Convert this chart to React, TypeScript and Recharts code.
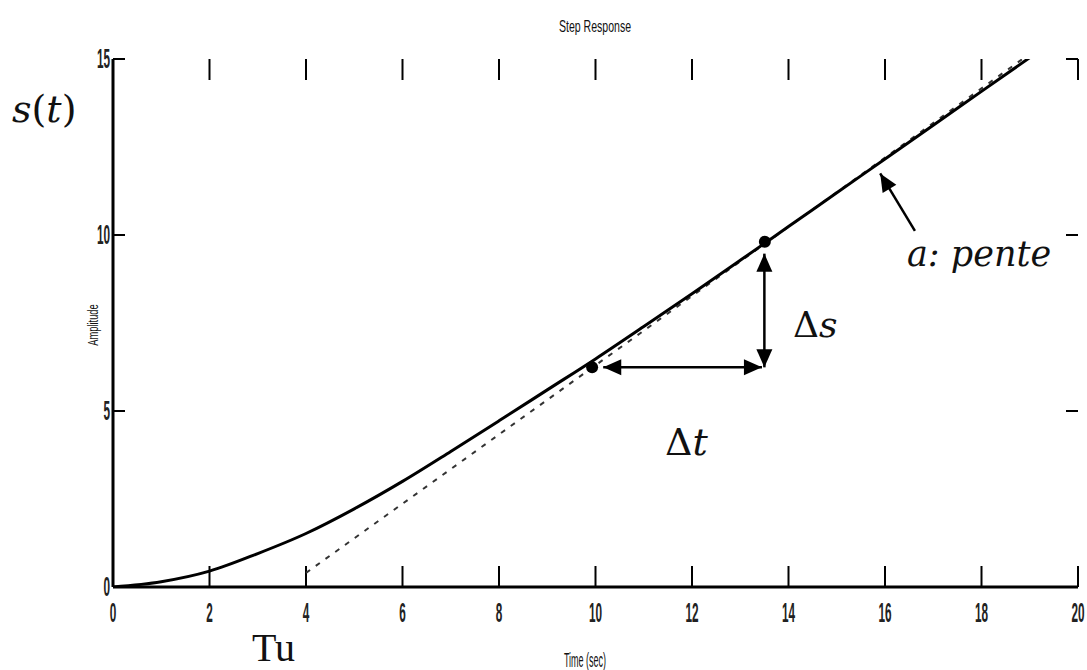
import React from "react";
import {
  ComposedChart,
  Line,
  XAxis,
  YAxis,
  ReferenceDot,
  ReferenceLine
} from "recharts";

// step response
const responseTime = [0, 1, 2, 3, 4, 5, 6, 7, 8, 9, 10, 11, 12, 13, 14, 15, 16, 17, 18, 19];
const responseValue = [0, 0.15, 0.45, 0.95, 1.52, 2.22, 3.0, 3.85, 4.72, 5.6, 6.48, 7.4, 8.33, 9.28, 10.24, 11.2, 12.16, 13.12, 14.08, 15.04];

// dashed tangent (asymptote)
const tangentTime = [4.0, 18.85];
const tangentValue = [0.4, 15.0];

// the two points used for the slope
const slopePointTime = [9.93, 13.51];
const slopePointValue = [6.24, 9.81];

// arrows: [t1, s1, t2, s2]
const deltaTArrow = [10.16, 6.24, 13.45, 6.24];
const deltaSArrow = [13.5, 6.24, 13.5, 9.47];
const penteArrow = [16.62, 10.12, 15.9, 11.75];

const timeTicks = [0, 2, 4, 6, 8, 10, 12, 14, 16, 18, 20];
const amplitudeTicks = [0, 5, 10, 15];

const response = responseTime.map((t, i) => ({ t, s: responseValue[i] }));
const tangent = tangentTime.map((t, i) => ({ t, s: tangentValue[i] }));

const tickFont = "'Liberation Sans', Arial, sans-serif";

function XTick(props: any) {
  const { x, y, payload } = props;
  return (
    <text
      transform={`translate(${x},${y}) scale(0.42,1)`}
      textAnchor="middle"
      dominantBaseline="central"
      fontFamily={tickFont}
      fontSize={28}
      fontWeight="bold"
      fill="#222">
      {payload.value}
    </text>
  );
}

function YTick(props: any) {
  const { x, y, payload } = props;
  return (
    <text
      transform={`translate(${x},${y}) scale(0.42,1)`}
      textAnchor="end"
      dominantBaseline="central"
      fontFamily={tickFont}
      fontSize={28}
      fontWeight="bold"
      fill="#222">
      {payload.value}
    </text>
  );
}

// inward tick marks on all four sides, MATLAB box style
function innerTicks(len: number) {
  return (p: any) => {
    const { x1, y1, x2, y2 } = p;
    if (x1 === x2) {
      const top = Math.min(y1, y2);
      const bottom = Math.max(y1, y2);
      return (
        <g stroke="#000" strokeWidth={2}>
          <line x1={x1} y1={top} x2={x1} y2={top + len} />
          <line x1={x1} y1={bottom} x2={x1} y2={bottom - len} />
        </g>
      );
    }
    const left = Math.min(x1, x2);
    const right = Math.max(x1, x2);
    return (
      <g stroke="#000" strokeWidth={2}>
        <line x1={left} y1={y1} x2={left + len} y2={y1} />
        <line x1={right} y1={y1} x2={right - len} y2={y1} />
      </g>
    );
  };
}

function head(tx: number, ty: number, ang: number) {
  const L = 18;
  const W = 8;
  const bx = tx - L * Math.cos(ang);
  const by = ty - L * Math.sin(ang);
  const px = -Math.sin(ang) * W;
  const py = Math.cos(ang) * W;
  return `${tx},${ty} ${bx + px},${by + py} ${bx - px},${by - py}`;
}

function arrowShape(both: boolean) {
  return (p: any) => {
    const { x1, y1, x2, y2 } = p;
    const ang = Math.atan2(y2 - y1, x2 - x1);
    return (
      <g>
        <line x1={x1} y1={y1} x2={x2} y2={y2} stroke="#000" strokeWidth={2.5} />
        {both && <polygon points={head(x1, y1, ang + Math.PI)} fill="#000" />}
        <polygon points={head(x2, y2, ang)} fill="#000" />
      </g>
    );
  };
}

const overlay: React.CSSProperties = { position: "absolute", lineHeight: 1, whiteSpace: "nowrap", color: "#111" };
const mathFont = "'DejaVu Serif', serif";

export default function App() {
  return (
    <div style={{ position: "absolute", left: 0, top: 0, width: 1087, height: 670, background: "#fff", overflow: "hidden" }}>
      <ComposedChart
        width={1087}
        height={670}
        margin={{ top: 59, right: 9, bottom: 0, left: 0 }}>
        <XAxis
          type="number"
          dataKey="t"
          domain={[0, 20]}
          ticks={timeTicks}
          interval={0}
          allowDataOverflow
          height={83}
          tickSize={0}
          tickMargin={26}
          tick={<XTick />}
          tickLine={false}
          axisLine={{ stroke: "#000", strokeWidth: 3 }}
        />
        <XAxis
          xAxisId="top"
          orientation="top"
          type="number"
          dataKey="t"
          domain={[0, 20]}
          allowDataOverflow
          height={0}
          tick={false}
          tickLine={false}
          axisLine={{ stroke: "#000", strokeWidth: 3 }}
        />
        <YAxis
          type="number"
          domain={[0, 15]}
          ticks={amplitudeTicks}
          interval={0}
          allowDataOverflow
          width={113}
          tickSize={0}
          tickMargin={3}
          tick={<YTick />}
          tickLine={false}
          axisLine={{ stroke: "#000", strokeWidth: 3 }}
        />
        <YAxis
          yAxisId="right"
          orientation="right"
          type="number"
          domain={[0, 15]}
          allowDataOverflow
          width={0}
          tick={false}
          tickLine={false}
          axisLine={{ stroke: "#000", strokeWidth: 3 }}
        />
        {timeTicks.map((t) => (
          <ReferenceLine key={`xt${t}`} x={t} shape={innerTicks(21)} />
        ))}
        {amplitudeTicks.map((v) => (
          <ReferenceLine key={`yt${v}`} y={v} shape={innerTicks(12)} />
        ))}
        <Line
          data={tangent}
          dataKey="s"
          type="linear"
          stroke="#333"
          strokeWidth={2}
          strokeDasharray="5 7"
          dot={false}
          isAnimationActive={false}
        />
        <Line
          data={response}
          dataKey="s"
          type="monotone"
          stroke="#000"
          strokeWidth={3}
          dot={false}
          isAnimationActive={false}
        />
        {/* invisible copy so the box axes get the same data */}
        <Line
          data={response}
          dataKey="s"
          xAxisId="top"
          yAxisId="right"
          stroke="none"
          dot={false}
          activeDot={false}
          isAnimationActive={false}
        />
        <ReferenceLine
          segment={[{ x: deltaTArrow[0], y: deltaTArrow[1] }, { x: deltaTArrow[2], y: deltaTArrow[3] }]}
          ifOverflow="visible"
          shape={arrowShape(true)}
        />
        <ReferenceLine
          segment={[{ x: deltaSArrow[0], y: deltaSArrow[1] }, { x: deltaSArrow[2], y: deltaSArrow[3] }]}
          ifOverflow="visible"
          shape={arrowShape(true)}
        />
        <ReferenceLine
          segment={[{ x: penteArrow[0], y: penteArrow[1] }, { x: penteArrow[2], y: penteArrow[3] }]}
          ifOverflow="visible"
          shape={arrowShape(false)}
        />
        {slopePointTime.map((t, i) => (
          <ReferenceDot key={i} x={t} y={slopePointValue[i]} r={6} fill="#000" stroke="none" />
        ))}
      </ComposedChart>

      <div style={{ ...overlay, left: 595, top: 18, fontFamily: tickFont, fontSize: 17, transform: "translateX(-50%) scaleX(0.62)" }}>
        Step Response
      </div>
      <div style={{ ...overlay, left: 92, top: 325, fontFamily: tickFont, fontSize: 15, transform: "translate(-50%,-50%) rotate(-90deg) scaleX(0.62)" }}>
        Amplitude
      </div>
      <div style={{ ...overlay, left: 585, top: 650, fontFamily: tickFont, fontSize: 20, transform: "translateX(-50%) scaleX(0.45)" }}>
        Time (sec)
      </div>

      <div style={{ ...overlay, left: 12, top: 90, fontFamily: mathFont, fontSize: 38 }}>
        <i>s</i>(<i>t</i>)
      </div>
      <div style={{ ...overlay, left: 252, top: 628, fontFamily: "'Liberation Serif', serif", fontSize: 40 }}>
        Tu
      </div>
      <div style={{ ...overlay, left: 907, top: 237, fontFamily: mathFont, fontSize: 35, fontStyle: "italic" }}>
        a: pente
      </div>
      <div style={{ ...overlay, left: 793, top: 307, fontFamily: mathFont, fontSize: 36 }}>
        Δ<i>s</i>
      </div>
      <div style={{ ...overlay, left: 665, top: 423, fontFamily: mathFont, fontSize: 38 }}>
        Δ<i>t</i>
      </div>
    </div>
  );
}
